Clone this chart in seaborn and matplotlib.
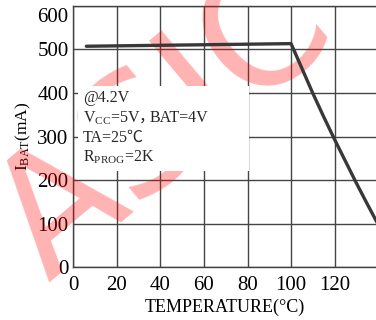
import matplotlib
matplotlib.use('Agg')
import matplotlib.pyplot as plt
from matplotlib.patches import Rectangle
from matplotlib.transforms import ScaledTranslation
import seaborn as sns
import pandas as pd

# ---- data ----
temperature = [6, 100, 105, 110, 115, 120, 125, 130, 135, 140]
current_ma = [507, 513, 456, 399, 345, 293, 243, 193, 145, 98]
x_ticks = [0, 20, 40, 60, 80, 100, 120]
y_ticks = [0, 100, 200, 300, 400, 500, 600]
x_label = "TEMPERATURE(°C)"
y_label = r"I$_{\mathrm{BAT}}$(mA)"
note_lines = ["@4.2V", r"V$_{\mathrm{CC}}$=5V", "，", "BAT=4V", "TA=25℃", r"R$_{\mathrm{PROG}}$=2K"]

sns.set_theme(style="white")
plt.rcParams['font.family'] = ['Liberation Serif', 'Noto Sans CJK SC', 'DejaVu Sans']
plt.rcParams['mathtext.fontset'] = 'custom'
plt.rcParams['mathtext.rm'] = 'Liberation Serif'
plt.rcParams['mathtext.it'] = 'Liberation Serif:italic'
plt.rcParams['mathtext.bf'] = 'Liberation Serif:bold'

W, H = 376, 320
fig = plt.figure(figsize=(W / 100, H / 100), dpi=100)
x0, x1, ytop, ybot = 73.3, 376.0, 5.7, 267.3
ax = fig.add_axes([x0 / W, (H - ybot) / H, (x1 - x0) / W, (ybot - ytop) / H])

df = pd.DataFrame({"T": temperature, "I": current_ma})
sns.lineplot(data=df, x="T", y="I", ax=ax, color="#383838", lw=2.4, zorder=5)

ax.set_xlim(0, 139)
ax.set_ylim(0, 600)
ax.set_xticks(x_ticks)
ax.set_yticks(y_ticks)
ax.grid(True, color="#454545", lw=1.0)
ax.set_axisbelow(True)
for s in ["left", "bottom", "top"]:
    ax.spines[s].set_color("#404040")
    ax.spines[s].set_linewidth(1.0)
    ax.spines[s].set_visible(True)
ax.spines["right"].set_visible(False)
ax.tick_params(length=0, labelsize=15, colors="black")
ax.tick_params(axis="y", pad=3.5)
ax.tick_params(axis="x", pad=6)
ax.set_xlabel(x_label, fontsize=13, color="black", labelpad=3)
ax.set_ylabel(y_label, fontsize=12.5, color="black")
ax.yaxis.set_label_coords(-0.133, 0.5)

# the top "600" label sits a little below its grid line in the reference
top_tick = ax.yaxis.get_major_ticks()[-1]
top_tick.label1.set_transform(top_tick.label1.get_transform()
                              + ScaledTranslation(0, -7 / 72, fig.dpi_scale_trans))

# white note box
ax.add_patch(Rectangle((2, 222), 78.6, 194, facecolor="white", edgecolor="none", zorder=4))
fs = 11.5
ax.text(4.3, 378, note_lines[0], fontsize=fs, va="baseline", zorder=6)
ax.text(4.3, 333, note_lines[1], fontsize=fs, va="baseline", zorder=6)
ax.text(30.0, 333, note_lines[2], fontsize=fs, va="baseline", zorder=6,
        family=['Noto Sans CJK SC'])
ax.text(34.9, 333, note_lines[3], fontsize=fs, va="baseline", zorder=6)
ax.text(4.3, 287, note_lines[4], fontsize=fs, va="baseline", zorder=6,
        family=['Liberation Serif', 'Noto Sans CJK SC'])
ax.text(4.3, 241.5, note_lines[5], fontsize=fs, va="baseline", zorder=6)

# watermark
ax.text(0.44, 0.61, "ASIC", transform=fig.transFigure, fontsize=119, color="red",
        alpha=0.3, rotation=40, ha="center", va="center", family=["DejaVu Sans"],
        zorder=3, clip_on=False)

fig.savefig("out.png", dpi=100)
